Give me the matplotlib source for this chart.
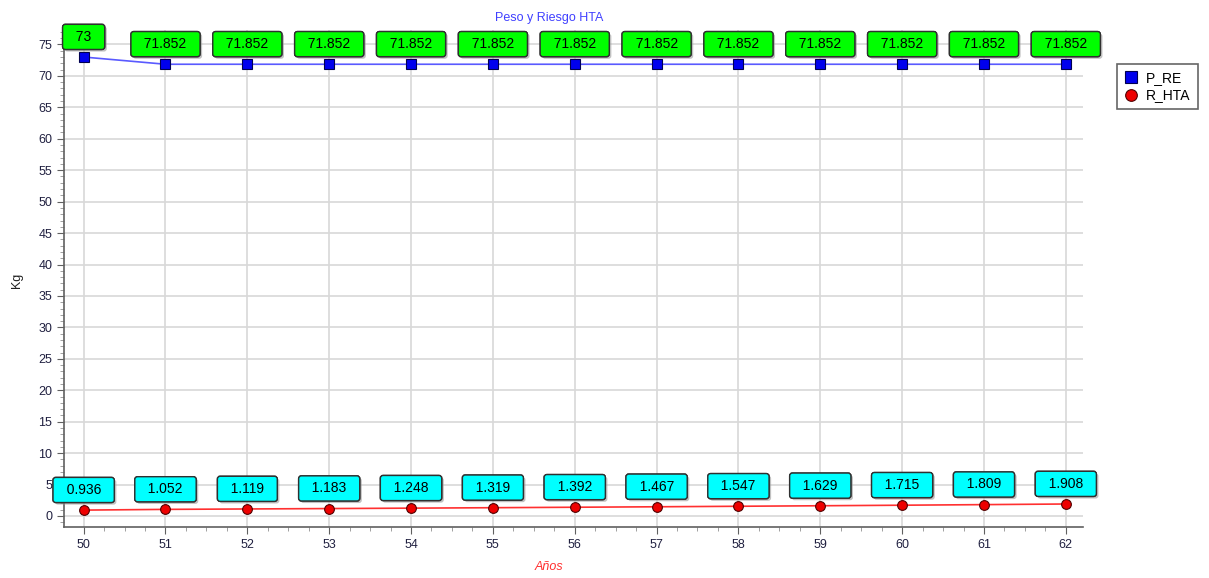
import matplotlib
matplotlib.use("Agg")
import matplotlib.pyplot as plt
from matplotlib.ticker import MultipleLocator
import matplotlib.patheffects as pe

years = [50, 51, 52, 53, 54, 55, 56, 57, 58, 59, 60, 61, 62]
p_re = [73, 71.852, 71.852, 71.852, 71.852, 71.852, 71.852, 71.852, 71.852, 71.852, 71.852, 71.852, 71.852]
r_hta = [0.936, 1.052, 1.119, 1.183, 1.248, 1.319, 1.392, 1.467, 1.547, 1.629, 1.715, 1.809, 1.908]
p_labels = ["73"] + ["71.852"] * 12
r_labels = ["0.936", "1.052", "1.119", "1.183", "1.248", "1.319", "1.392", "1.467", "1.547", "1.629", "1.715", "1.809", "1.908"]

plt.rcParams['font.family'] = ['Liberation Sans', 'DejaVu Sans']

fig = plt.figure(figsize=(12.09, 5.78), dpi=100)
ax = fig.add_axes([64/1209, 1 - 527/578, (1083-64)/1209, (527-30)/578])

ax.plot(years, p_re, color='#5a5aff', lw=1.2, marker='s', ms=7, mfc='#0000ee',
        mec='#000050', mew=0.8, label='P_RE', zorder=3)
ax.plot(years, r_hta, color='#ff3030', lw=1.2, marker='o', ms=7, mfc='#ee0000',
        mec='#500000', mew=0.8, label='R_HTA', zorder=3)

shadow = [pe.withSimplePatchShadow(offset=(1.5, -1.5), shadow_rgbFace='#999999', alpha=0.6), pe.Normal()]
def label(x, y, t, fc):
    ax.annotate('  ' + t + '  ', (x, y), xytext=(0, 14.5), textcoords='offset points', ha='center', va='center',
                fontsize=10, color='black',
                bbox=dict(boxstyle='round,pad=0.4,rounding_size=0.2', fc=fc, ec='#303030', lw=1.0,
                          path_effects=shadow), zorder=5)
for x, y, t in zip(years, p_re, p_labels):
    label(x, y, t, '#00ff00')
for x, y, t in zip(years, r_hta, r_labels):
    label(x, y, t, '#00ffff')

ax.set_xlim(49.76, 62.21)
ax.set_ylim(-1.75, 77.3)
ax.set_xticks(years)
ax.set_yticks(range(0, 80, 5))
ax.xaxis.set_minor_locator(MultipleLocator(0.25))
ax.yaxis.set_minor_locator(MultipleLocator(1))
ax.grid(True, which='major', color='#d8d8d8', lw=1.2)
ax.set_axisbelow(True)
for s in ['top', 'right']:
    ax.spines[s].set_visible(False)
for s in ['left', 'bottom']:
    ax.spines[s].set_color('#606060')
    ax.spines[s].set_linewidth(1.2)
ax.tick_params(which='major', length=5, color='#606060', labelsize=9, labelcolor='#202040')
ax.tick_params(which='minor', length=3, color='#909090')

fig.text(549/1209, 1 - 18/578, 'Peso y Riesgo HTA', color='#4040ff', fontsize=9, ha='center', va='center')
fig.text(549/1209, 1 - 567/578, 'Años', color='#ff3030', style='italic', fontsize=9, ha='center', va='center')
fig.text(17/1209, 1 - 280/578, 'Kg', color='#202020', fontsize=9, rotation=90, ha='center', va='center')

leg = fig.legend(loc='upper left', bbox_to_anchor=(1117/1209, 1 - 64/578), fontsize=10,
                 frameon=True, fancybox=False, edgecolor='#404040', handlelength=1.0,
                 handletextpad=0.6, borderpad=0.5, labelspacing=0.25, markerscale=1.2,
                 borderaxespad=0)
leg.get_frame().set_linewidth(1.2)
for h in leg.legend_handles:
    h.set_linestyle('none')

fig.savefig('out.png', dpi=100)
